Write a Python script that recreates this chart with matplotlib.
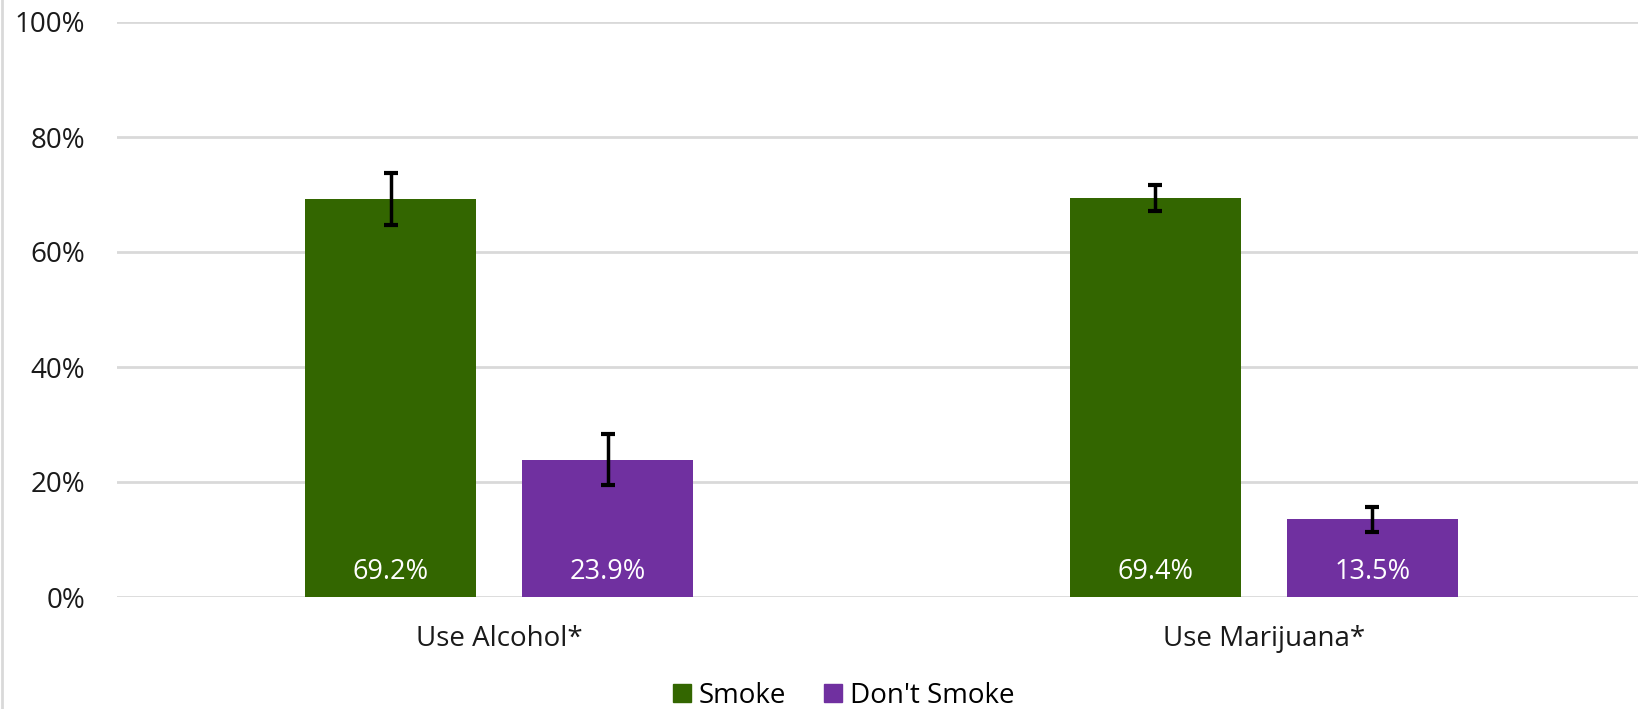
import matplotlib.pyplot as plt
import numpy as np
from matplotlib.lines import Line2D

plt.rcParams['font.family'] = ['Open Sans', 'DejaVu Sans']

categories = ["Use Alcohol*", "Use Marijuana*"]
series_names = ["Smoke", "Don't Smoke"]
smoke = [69.2, 69.4]
dont_smoke = [23.9, 13.5]
smoke_err = [4.5, 2.25]
dont_smoke_err = [4.4, 2.2]
yticks = [0, 20, 40, 60, 80, 100]

colors = ["#336600", "#7030A0"]
W, H = 1638, 709

fig = plt.figure(figsize=(W / 100, H / 100), dpi=100)
# axes spans past the right edge, like the cropped original
ax = fig.add_axes([117 / W, 1 - 597 / H, 1529 / W, 575 / H])

x = np.arange(len(categories))
bw = 0.224
off = 0.142
b1 = ax.bar(x - off, smoke, bw, color=colors[0], label=series_names[0], zorder=2)
b2 = ax.bar(x + off, dont_smoke, bw, color=colors[1], label=series_names[1], zorder=2)
ax.errorbar(x - off, smoke, yerr=smoke_err, fmt="none", ecolor="black",
            elinewidth=2.5, capsize=5, capthick=3, zorder=3)
ax.errorbar(x + off, dont_smoke, yerr=dont_smoke_err, fmt="none", ecolor="black",
            elinewidth=2.5, capsize=5, capthick=3, zorder=3)

for bars, vals in [(b1, smoke), (b2, dont_smoke)]:
    for rect, v in zip(bars, vals):
        ax.text(rect.get_x() + rect.get_width() / 2, 4.3, f"{v:.1f}%",
                ha="center", va="center", color="white", fontsize=19.5, zorder=4)

ax.set_xlim(-0.5, 1.5)
ax.set_ylim(0, 100)
ax.set_yticks(yticks)
ax.set_yticklabels([f"{t}%" for t in yticks], fontsize=20, color="#1a1a1a")
ax.set_xticks(x)
ax.set_xticklabels(categories, fontsize=20, color="#1a1a1a")
ax.tick_params(axis="both", length=0)
ax.tick_params(axis="y", pad=23)
ax.tick_params(axis="x", pad=20)
ax.grid(axis="y", color="#d9d9d9", linewidth=2, zorder=0)
for s in ax.spines.values():
    s.set_visible(False)

handles = [Line2D([], [], marker="s", linestyle="none", markersize=13,
                  markerfacecolor=c, markeredgecolor=c) for c in colors]
fig.legend(handles, series_names, loc="center", bbox_to_anchor=(841 / W, 1 - 696 / H),
           ncol=2, frameon=False, fontsize=20, handletextpad=0.1, columnspacing=1.2,
           handlelength=1.0)

fig.add_artist(Line2D([1.5 / W, 1.5 / W], [0, 1], color="#d9d9d9", linewidth=2))

fig.savefig("out.png", dpi=100)
